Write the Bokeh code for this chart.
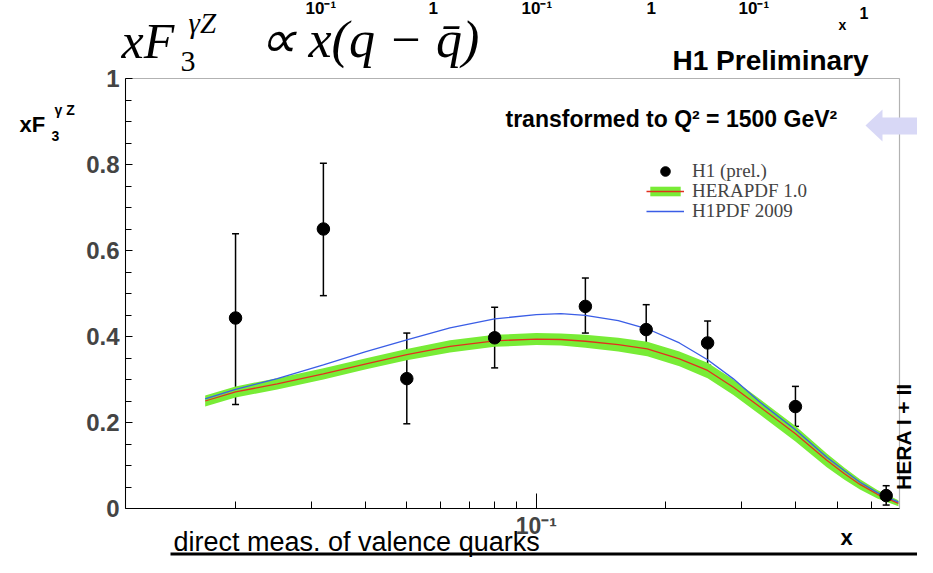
from bokeh.plotting import figure
from bokeh.models import (FixedTicker, CustomJSTickFormatter, Label, Legend, LegendItem,
                          Whisker, TeeHead, ColumnDataSource, BoxAnnotation, PolyAnnotation, Range1d)
from bokeh.embed import file_html
from bokeh.resources import INLINE
import math

# ---------------- data ----------------
pts_x = [0.02, 0.032, 0.05, 0.08, 0.13, 0.18, 0.25, 0.40, 0.65]
pts_y = [0.443, 0.650, 0.302, 0.397, 0.470, 0.416, 0.385, 0.237, 0.030]
pts_hi = [0.639, 0.803, 0.408, 0.468, 0.536, 0.474, 0.436, 0.284, 0.053]
pts_lo = [0.242, 0.495, 0.197, 0.327, 0.408, 0.360, 0.333, 0.191, 0.008]

curve_x = [0.017, 0.02, 0.025, 0.032, 0.04, 0.05, 0.063, 0.08, 0.1, 0.114, 0.13, 0.155,
           0.181, 0.215, 0.25, 0.287, 0.331, 0.40, 0.473, 0.52, 0.565, 0.62, 0.694]
h1pdf = [0.255, 0.277, 0.302, 0.334, 0.364, 0.392, 0.420, 0.441, 0.451, 0.453, 0.449, 0.437,
         0.418, 0.385, 0.346, 0.3015, 0.247, 0.183, 0.119, 0.088, 0.061, 0.037, 0.015]
herapdf = [0.250, 0.271, 0.290, 0.313, 0.336, 0.358, 0.377, 0.390, 0.394, 0.393, 0.389, 0.381,
           0.371, 0.348, 0.321, 0.282, 0.236, 0.174, 0.112, 0.081, 0.056, 0.033, 0.012]
herapdf_hi = [0.263, 0.284, 0.303, 0.326, 0.349, 0.371, 0.391, 0.404, 0.408, 0.407, 0.404, 0.397,
              0.388, 0.365, 0.339, 0.300, 0.254, 0.192, 0.128, 0.095, 0.068, 0.043, 0.019]
herapdf_lo = [0.237, 0.258, 0.277, 0.300, 0.323, 0.345, 0.363, 0.376, 0.380, 0.379, 0.374, 0.365,
              0.354, 0.331, 0.303, 0.264, 0.218, 0.156, 0.096, 0.067, 0.044, 0.023, 0.005]

y_ticks = [0, 0.2, 0.4, 0.6, 0.8, 1.0]
y_minor = [0.05, 0.1, 0.15, 0.25, 0.3, 0.35, 0.45, 0.5, 0.55, 0.65, 0.7, 0.75, 0.85, 0.9, 0.95]
x_ticks = [0.1]
x_minor = [0.02, 0.03, 0.04, 0.05, 0.06, 0.07, 0.08, 0.09, 0.2, 0.3, 0.4, 0.5, 0.6]
x_lim = (0.0111, 0.698)
y_lim = (0.0, 1.0)

# ---------------- layout (canvas pixel positions of the inner plot box) ----------------
W, H = 917, 557
BL, BR, BT, BB = 125, 899, 78, 508
SANS = "Liberation Sans"
SERIF = "Liberation Serif"

DEC = (BR - BL) / (math.log10(x_lim[1]) - math.log10(x_lim[0]))
YPX = (BB - BT) / (y_lim[1] - y_lim[0])
xr = Range1d(10 ** (math.log10(x_lim[0]) - BL / DEC), 10 ** (math.log10(x_lim[1]) + (W - BR) / DEC))
yr = Range1d(y_lim[0] - (H - BB) / YPX, y_lim[1] + BT / YPX)

def sx(xw):
    return xw

def sy(yw):
    return H - yw

p = figure(width=W, height=H, x_axis_type="log", output_backend="svg", toolbar_location=None,
           x_range=xr, y_range=yr, min_border=0)
p.title.visible = False
p.xgrid.visible = False
p.ygrid.visible = False
p.outline_line_color = None
p.background_fill_color = "white"
p.border_fill_color = "white"

# band and curves
band = p.varea(x=curve_x, y1=herapdf_lo, y2=herapdf_hi, fill_color="#78ec36")
red = p.line(x=curve_x, y=herapdf, line_color="#e2301e", line_width=1.3)
blue = p.line(x=curve_x, y=h1pdf, line_color="#3a5de6", line_width=1.3)

src = ColumnDataSource(dict(x=pts_x, y=pts_y, hi=pts_hi, lo=pts_lo))
wh = Whisker(source=src, base="x", upper="hi", lower="lo", dimension="height",
             line_color="black", line_width=1.5,
             upper_head=TeeHead(size=7, line_color="black", line_width=1.5),
             lower_head=TeeHead(size=7, line_color="black", line_width=1.5))
p.add_layout(wh)
pts = p.scatter(x="x", y="y", source=src, size=12.5, marker="circle", fill_color="black",
                line_color="black")

# inner plot box
p.add_layout(BoxAnnotation(left=x_lim[0], right=x_lim[1], bottom=y_lim[0], top=y_lim[1],
                           fill_alpha=0, line_color="black", line_width=1.2))

# axes placed on the inner box
xa = p.xaxis[0]
xa.fixed_location = y_lim[0]
xa.bounds = x_lim
xa.ticker = FixedTicker(ticks=x_ticks, minor_ticks=x_minor)
xa.formatter = CustomJSTickFormatter(code="return '10\u207b\u00b9'")
xa.major_tick_in = 15
xa.major_tick_out = 0
xa.minor_tick_in = 7
xa.minor_tick_out = 0
xa.axis_line_color = "black"
xa.major_label_text_font = SANS
xa.major_label_text_font_style = "bold"
xa.major_label_text_font_size = "23px"
xa.major_label_standoff = 4

ya = p.yaxis[0]
ya.fixed_location = x_lim[0]
ya.bounds = y_lim
ya.ticker = FixedTicker(ticks=y_ticks, minor_ticks=y_minor)
ya.formatter = CustomJSTickFormatter(code="return (tick == 0 || tick == 1) ? tick.toFixed(0) : tick.toFixed(1)")
ya.major_tick_in = 7
ya.major_tick_out = 0
ya.minor_tick_in = 6
ya.minor_tick_out = 0
ya.axis_line_color = "black"
ya.major_label_text_font = SANS
ya.major_label_text_font_style = "bold"
ya.major_label_text_font_size = "24px"
ya.major_label_standoff = 6

# legend: one row each, stacked tightly as in the reference
rows = [("H1 (prel.)", [pts], 171, 24), ("HERAPDF 1.0", [band, red], 191, 12),
        ("H1PDF 2009", [blue], 211, 12)]
for text, rends, centre, gh in rows:
    lg = Legend(items=[LegendItem(label=text, renderers=rends)],
                location=(sx(646), sy(centre + 12)), padding=0, margin=0, spacing=0,
                glyph_width=38, glyph_height=gh, label_height=24, label_standoff=8,
                label_text_font=SERIF, label_text_font_size="19px",
                border_line_alpha=0, background_fill_alpha=0)
    p.add_layout(lg, "center")

def lab(text, xw, base, size, font=SANS, style="bold", align="left", angle=0.0,
        centre=None):
    # base: baseline position (canvas px from top); drawn with a middle baseline
    yc = centre if centre is not None else base - 0.36 * size
    p.add_layout(Label(x=sx(xw), y=sy(yc), x_units="screen", y_units="screen", text=text,
                       text_font=font, text_font_size=f"{size}px", text_font_style=style,
                       text_align=align, text_baseline="middle", angle=angle,
                       text_color="black"))

# cropped tick labels of a panel above
for t, xw in [("10\u207b\u00b9", 305), ("1", 428), ("10\u207b\u00b9", 521), ("1", 646),
              ("10\u207b\u00b9", 738)]:
    lab(t, xw, 14, 17)
lab("x", 838, 30, 14)
lab("1", 859, 18, 16)

# formula
lab("xF", 121, 58, 50, font=SERIF, style="italic")
lab("3", 180, 72, 30, font=SERIF, style="normal")
lab("\u03b3Z", 188, 33, 29, font=SERIF, style="italic")
lab("\u221d x(q \u2212 q\u0304)", 258, 58, 52, font=SERIF, style="italic")

lab("H1 Preliminary", 672, 70, 28)

# y axis title
lab("xF", 19, 132, 22)
lab("3", 51, 141, 14)
lab("\u03b3 Z", 54, 115, 14)

lab("transformed to Q\u00b2 = 1500 GeV\u00b2", 505, 127, 23)

lab("x", 846, 545, 22, align="center")
lab("HERA I + II", 903, None, 21, align="center", angle=math.pi / 2, centre=436)

lab("direct meas. of valence quarks", 173, 551, 27, style="normal")

# arrow at the right
p.add_layout(PolyAnnotation(xs=[sx(865), sx(882), sx(882), sx(940), sx(940), sx(882), sx(882)],
                            ys=[sy(125), sy(109), sy(117), sy(117), sy(134), sy(134), sy(141)],
                            xs_units="screen", ys_units="screen",
                            fill_color="#d8d8f6", fill_alpha=1.0, line_alpha=0))

# bottom rule
p.add_layout(BoxAnnotation(left=sx(170), right=sx(925), top=sy(552), bottom=sy(555),
                           left_units="screen", right_units="screen", top_units="screen",
                           bottom_units="screen", fill_color="black", fill_alpha=1.0,
                           line_alpha=0))

open("out.html", "w").write(file_html(p, INLINE))
